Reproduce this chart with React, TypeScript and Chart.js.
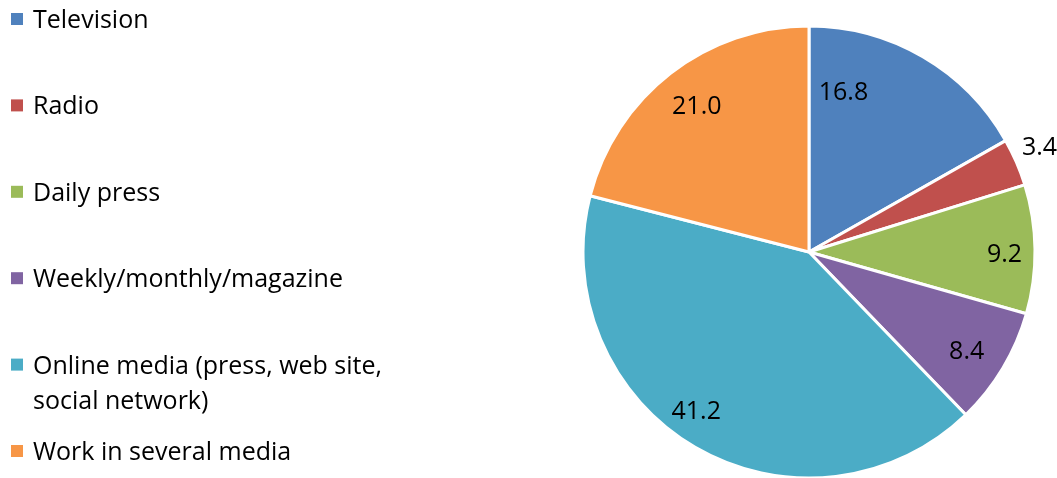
import React, { useEffect, useRef } from "react";
import { Chart, registerables } from "chart.js";

Chart.register(...registerables);

const categories: (string | string[])[] = [
  "Television",
  "Radio",
  "Daily press",
  "Weekly/monthly/magazine",
  ["Online media (press, web site,", "social network)"],
  "Work in several media",
];
const shares = [16.8, 3.4, 9.2, 8.4, 41.2, 21.0];
const colors = ["#4F81BD", "#C0504D", "#9BBB59", "#8064A2", "#4BACC6", "#F79646"];

// label placement: radial factor and angular shift (degrees) relative to slice middle
const labelRadial = [0.72, 1.12, 0.865, 0.825, 0.865, 0.81];
const labelShift = [-18, -1, 1.6, 1.3, 5, 0];

const FONT = "'Open Sans', 'Noto Sans', sans-serif";
const FONT_SIZE = 25;

const overlayPlugin = {
  id: "overlay",
  afterDatasetsDraw(chart: any) {
    const ctx = chart.ctx as CanvasRenderingContext2D;
    const meta = chart.getDatasetMeta(0);
    const data = chart.data.datasets[0].data as number[];
    ctx.save();
    ctx.font = `${FONT_SIZE}px ${FONT}`;
    ctx.fillStyle = "#000";
    ctx.textAlign = "center";
    ctx.textBaseline = "middle";
    meta.data.forEach((arc: any, i: number) => {
      const p = arc.getProps(["x", "y", "startAngle", "endAngle", "outerRadius"], true);
      const a = (p.startAngle + p.endAngle) / 2 + (labelShift[i] * Math.PI) / 180;
      const r = p.outerRadius * labelRadial[i];
      ctx.fillText(data[i].toFixed(1), p.x + Math.cos(a) * r, p.y + Math.sin(a) * r);
    });
    // legend
    const labels = chart.data.labels as (string | string[])[];
    const bg = chart.data.datasets[0].backgroundColor as string[];
    ctx.textAlign = "left";
    ctx.textBaseline = "alphabetic";
    labels.forEach((lab, i) => {
      const cy = 19 + i * 86.4;
      ctx.fillStyle = bg[i];
      ctx.fillRect(11, cy - 6, 12, 12);
      ctx.fillStyle = "#000";
      const lines = Array.isArray(lab) ? lab : [lab];
      lines.forEach((ln, j) => {
        ctx.fillText(ln, 33, cy + 9 + j * 35);
      });
    });
    ctx.restore();
  },
};

export default function App() {
  const ref = useRef<HTMLCanvasElement>(null);
  useEffect(() => {
    if (!ref.current) return;
    const chart = new Chart(ref.current, {
      type: "pie",
      data: {
        labels: categories,
        datasets: [
          {
            data: shares,
            backgroundColor: colors,
            borderColor: "#ffffff",
            borderWidth: 3,
          },
        ],
      },
      options: {
        responsive: false,
        animation: false,
        radius: 226,
        layout: { padding: { left: 561, right: 0, top: 26, bottom: 0 } },
        plugins: {
          legend: { display: false },
          tooltip: { enabled: false },
        },
      },
      plugins: [overlayPlugin],
    });
    return () => chart.destroy();
  }, []);
  return (
    <div style={{ position: "fixed", left: 0, top: 0, width: 1057, height: 478, background: "#fff" }}>
      <canvas ref={ref} width={1057} height={478} />
    </div>
  );
}
